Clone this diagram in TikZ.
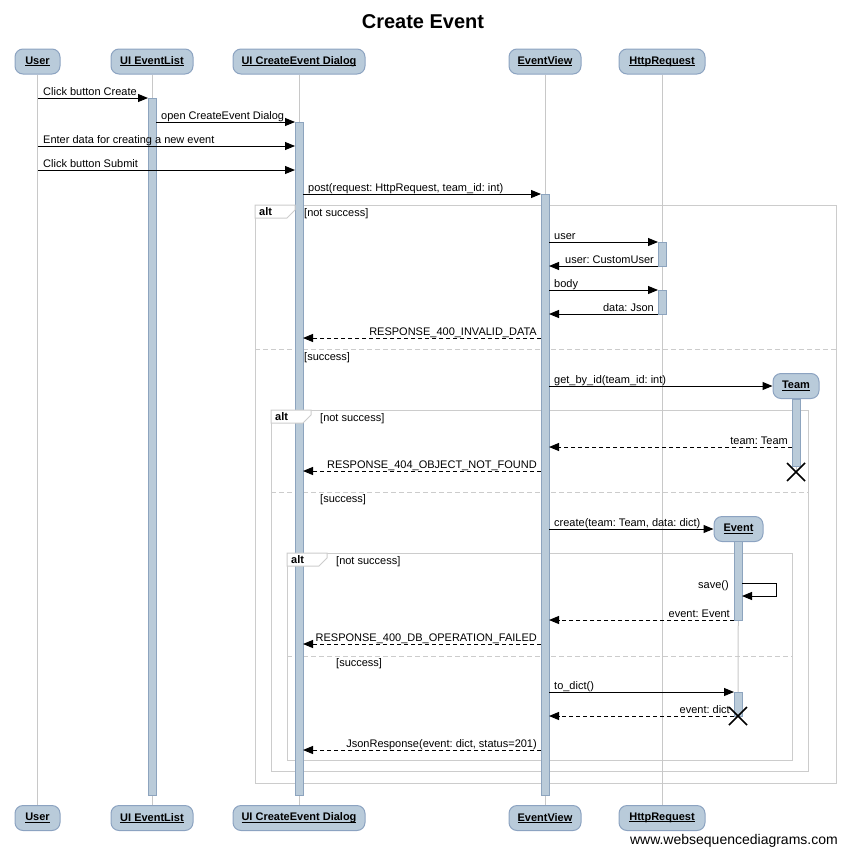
\documentclass[tikz,border=0pt]{standalone}
\usepackage{fontspec}
\setmainfont{Liberation Sans}
\usetikzlibrary{arrows.meta}
\frenchspacing
\definecolor{boxfill}{HTML}{B9CBDA}
\definecolor{boxdraw}{HTML}{8CA3C1}
\definecolor{actfill}{HTML}{BACBD9}
\definecolor{actdraw}{HTML}{8DA4BE}
\definecolor{lifegray}{HTML}{C8C8C8}
\definecolor{framegray}{HTML}{CCCCCC}
\newsavebox\ulbox
\newcommand\ulname[1]{\sbox\ulbox{#1}\makebox[0pt][l]{\rule[-1.6pt]{\wd\ulbox}{0.8pt}}\usebox\ulbox}
\tikzset{
 part/.style={draw=boxdraw, fill=boxfill, rounded corners=8pt, line width=1pt, minimum height=25pt, inner sep=0pt, font=\fontsize{11}{13}\selectfont\bfseries},
 life/.style={draw=lifegray, line width=1pt},
 actbar/.style={draw=actdraw, fill=actfill, line width=1pt},
 frm/.style={draw=framegray, line width=1pt},
 tab/.style={draw=framegray, fill=white, line width=1pt},
 divider/.style={draw=framegray, line width=1pt, dash pattern=on 5pt off 3pt},
 lbl/.style={font=\fontsize{11}{13}\selectfont, inner sep=0pt},
 altlbl/.style={font=\fontsize{11}{13}\selectfont\bfseries, inner sep=0pt, anchor=base west},
 sync/.style={draw=black, line width=1pt, -{Triangle[length=10pt,width=8pt]}},
 ret/.style={sync, dash pattern=on 4pt off 3pt},
 killx/.style={draw=black, line width=1.6pt},
}
\newcommand\seqmsg[6]{%
 \coordinate (#1-a) at (#2,#4);
 \coordinate (#1-b) at (#3,#4);
 \draw[#6] (#1-a) -- (#1-b);
 \ifdim #2pt<#3pt
   \node[lbl,anchor=base west] (#1-l) at ([xshift=5pt,yshift=3pt]#1-a) {#5};
 \else
   \node[lbl,anchor=base east] (#1-l) at ([xshift=-4pt,yshift=3pt]#1-a) {#5};
 \fi}
\begin{document}
\begin{tikzpicture}[x=1pt,y=-1pt]
\useasboundingbox (0,0) rectangle (846,854);
% title
\node[font=\fontsize{20}{24}\selectfont\bfseries, anchor=base, inner sep=0pt] (title) at (423,28.5) {Create Event};
% participants top
\node[part, minimum width=45pt] (userT) at (37.5,61.5) {\ulname{User}};
\node[part, minimum width=82pt] (listT) at (152,61.5) {\ulname{UI EventList}};
\node[part, minimum width=132pt] (dlgT) at (299,61.5) {\ulname{UI CreateEvent Dialog}};
\node[part, minimum width=72pt] (viewT) at (545,61.5) {\ulname{EventView}};
\node[part, minimum width=86pt] (httpT) at (662,61.5) {\ulname{HttpRequest}};
% participants bottom
\node[part, minimum width=45pt] (userB) at (37.5,818) {\ulname{User}};
\node[part, minimum width=82pt] (listB) at (152,818) {\ulname{UI EventList}};
\node[part, minimum width=132pt] (dlgB) at (299,818) {\ulname{UI CreateEvent Dialog}};
\node[part, minimum width=72pt] (viewB) at (545,818) {\ulname{EventView}};
\node[part, minimum width=86pt] (httpB) at (662,818) {\ulname{HttpRequest}};
% frames
\draw[frm] (255,205) rectangle (836,783);
\node[lbl,anchor=base west] (g1a) at (304,216) {[not success]};
\draw[divider] (255,349) -- (836,349);
\node[lbl,anchor=base west] (g1b) at (304,360) {[success]};
\draw[frm] (271,410) rectangle (808,771);
\node[lbl,anchor=base west] (g2a) at (320,421) {[not success]};
\draw[divider] (271,492) -- (808,492);
\node[lbl,anchor=base west] (g2b) at (320,502) {[success]};
\draw[frm] (287,553) rectangle (792,760);
\node[lbl,anchor=base west] (g3a) at (336,564) {[not success]};
\draw[divider] (287,656) -- (792,656);
\node[lbl,anchor=base west] (g3b) at (336,666) {[success]};
% created participants
\node[part, minimum width=46pt] (team) at (796,386) {\ulname{Team}};
\node[part, minimum width=49pt] (event) at (738.5,529) {\ulname{Event}};
\coordinate (teamX) at (796,472);
\coordinate (eventX) at (738,716);
% lifelines
\draw[life] (userT) -- (userB);
\draw[life] (listT) -- (listB);
\draw[life] (dlgT) -- (dlgB);
\draw[life] (viewT) -- (viewB);
\draw[life] (httpT) -- (httpB);
\draw[life] (team) -- (teamX);
\draw[life] (event) -- (eventX);
% activations
\draw[actbar] (148,98) rectangle (156,795);
\draw[actbar] (295,122) rectangle (303,795);
\draw[actbar] (541,194) rectangle (549,795);
\draw[actbar] (658,242) rectangle (666,266);
\draw[actbar] (658,290) rectangle (666,314);
\draw[actbar] (792,399) rectangle (800,466);
\draw[actbar] (734,541) rectangle (742,620);
\draw[actbar] (734,692) rectangle (742,716);
% alt tabs (over the bars)
\draw[tab] (255,205) -- (255,218) -- (287,218) -- (295,210) -- (295,205) -- cycle;
\node[altlbl] (alt1) at (259,215) {alt};
\draw[tab] (271,410) -- (271,423) -- (303,423) -- (311,415) -- (311,410) -- cycle;
\node[altlbl] (alt2) at (275,420) {alt};
\draw[tab] (287,553) -- (287,566) -- (319,566) -- (327,558) -- (327,553) -- cycle;
\node[altlbl] (alt3) at (291,563) {alt};
% messages
\seqmsg{m1}{38}{148}{98}{Click button Create}{sync}
\seqmsg{m2}{156}{295}{122}{open CreateEvent Dialog}{sync}
\seqmsg{m3}{38}{295}{146}{Enter data for creating a new event}{sync}
\seqmsg{m4}{38}{295}{170}{Click button Submit}{sync}
\seqmsg{m5}{303}{541}{194}{post(request: HttpRequest, team\_id: int)}{sync}
\seqmsg{m6}{549}{658}{242}{user}{sync}
\seqmsg{m7}{658}{549}{266}{user: CustomUser}{sync}
\seqmsg{m8}{549}{658}{290}{body}{sync}
\seqmsg{m9}{658}{549}{314}{data: Json}{sync}
\seqmsg{m10}{541}{303}{338}{RESPONSE\_400\_INVALID\_DATA}{ret}
\coordinate (m11-a) at (549,386);
\draw[sync] (m11-a) -- (team.west);
\node[lbl,anchor=base west] (m11-l) at ([xshift=5pt,yshift=3pt]m11-a) {get\_by\_id(team\_id: int)};
\seqmsg{m12}{792}{549}{447}{team: Team}{ret}
\seqmsg{m13}{541}{303}{471}{RESPONSE\_404\_OBJECT\_NOT\_FOUND}{ret}
\coordinate (m14-a) at (549,529);
\draw[sync] (m14-a) -- (event.west);
\node[lbl,anchor=base west] (m14-l) at ([xshift=5pt,yshift=3pt]m14-a) {create(team: Team, data: dict)};
\coordinate (s-a) at (742,583);
\coordinate (s-b) at (742,596);
\draw[sync] (s-a) -- ++(34,0) |- (s-b);
\node[lbl,anchor=base east] (s-l) at (729,588) {save()};
\seqmsg{m16}{734}{549}{620}{event: Event}{ret}
\seqmsg{m17}{541}{303}{644}{RESPONSE\_400\_DB\_OPERATION\_FAILED}{ret}
\seqmsg{m18}{549}{734}{692}{to\_dict()}{sync}
\seqmsg{m19}{734}{549}{716}{event: dict}{ret}
\seqmsg{m20}{541}{303}{750}{JsonResponse(event: dict, status=201)}{ret}
% destroy marks
\draw[killx] ([shift={(-9,-9)}]teamX) -- ([shift={(9,9)}]teamX) ([shift={(-9,9)}]teamX) -- ([shift={(9,-9)}]teamX);
\draw[killx] ([shift={(-9,-9)}]eventX) -- ([shift={(9,9)}]eventX) ([shift={(-9,9)}]eventX) -- ([shift={(9,-9)}]eventX);
% footer
\node[font=\fontsize{14}{16}\selectfont, anchor=base east, inner sep=0pt] (footer) at (838,844) {www.websequencediagrams.com};
\end{tikzpicture}
\end{document}
